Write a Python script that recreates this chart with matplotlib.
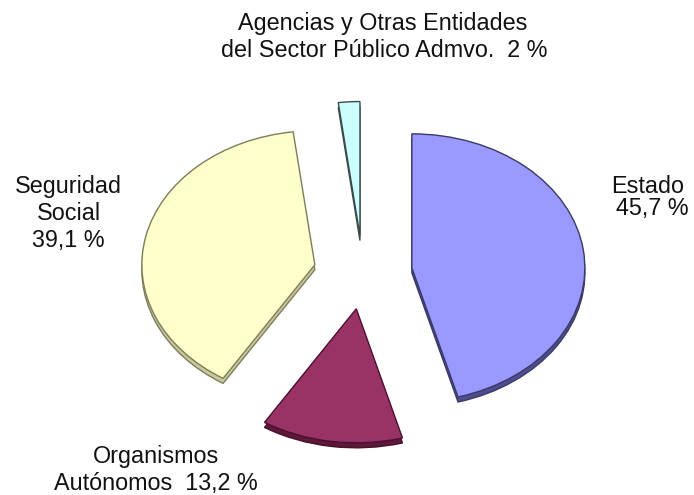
import matplotlib
matplotlib.use("Agg")
import matplotlib.pyplot as plt

# Data (clockwise from 12 o'clock)
categories = ["Estado", "Organismos Autónomos", "Seguridad Social",
              "Agencias y Otras Entidades del Sector Público Admvo."]
values = [45.7, 13.2, 39.1, 2.0]
explode = [0.285, 0.27, 0.285, 0.28]   # fraction of radius

face_colors = ["#9999ff", "#993366", "#ffffcc", "#ccffff"]
side_colors = ["#4d4d8f", "#5e1838", "#c9c99a", "#8fb8b8"]
edge_colors = ["#3a3a66", "#4a1030", "#7d7d5c", "#3d4a4a"]

W, H = 694, 495
fig = plt.figure(figsize=(W / 100, H / 100), dpi=100)
ax = fig.add_axes([0, 0, 1, 1])

RX, RY = 173.0, 134.0
s = RX / RY               # data-y units per pixel
cx_px, cy_px = 363.0, 273.0
depth_px = 5.0

def to_data(x_px, y_px):
    return x_px, (H - y_px) * s

center = to_data(cx_px, cy_px)
center_shadow = to_data(cx_px, cy_px + depth_px)
expl_abs = [e * RX for e in explode]

# side / thickness layer
sw, _ = ax.pie(values, explode=expl_abs, colors=side_colors, startangle=90,
               counterclock=False, radius=RX, center=center_shadow,
               wedgeprops=dict(linewidth=1.0))
for w, ec in zip(sw, edge_colors):
    w.set_edgecolor(ec)

# top layer
tw, _ = ax.pie(values, explode=expl_abs, colors=face_colors, startangle=90,
               counterclock=False, radius=RX, center=center,
               wedgeprops=dict(linewidth=1.0))
for w, ec in zip(tw, edge_colors):
    w.set_edgecolor(ec)

ax.set_aspect("auto")
ax.set_xlim(0, W)
ax.set_ylim(0, H * s)
ax.axis("off")

fp = dict(family=["Liberation Sans", "DejaVu Sans"], fontsize=16.8, color="#111111")

def label(x, y, t):
    fig.text(x / W, 1 - y / H, t, ha="center", va="baseline", **fp)

label(383, 30, "Agencias y Otras Entidades")
label(384, 57, "del Sector Público Admvo.  2 %")
label(648, 193, "Estado")
label(652, 215, "45,7 %")
label(68, 193, "Seguridad")
label(69, 220, "Social")
label(68, 247, "39,1 %")
label(156, 463, "Organismos")
label(156, 490, "Autónomos  13,2 %")

fig.savefig("out.png", dpi=100, facecolor="white")
